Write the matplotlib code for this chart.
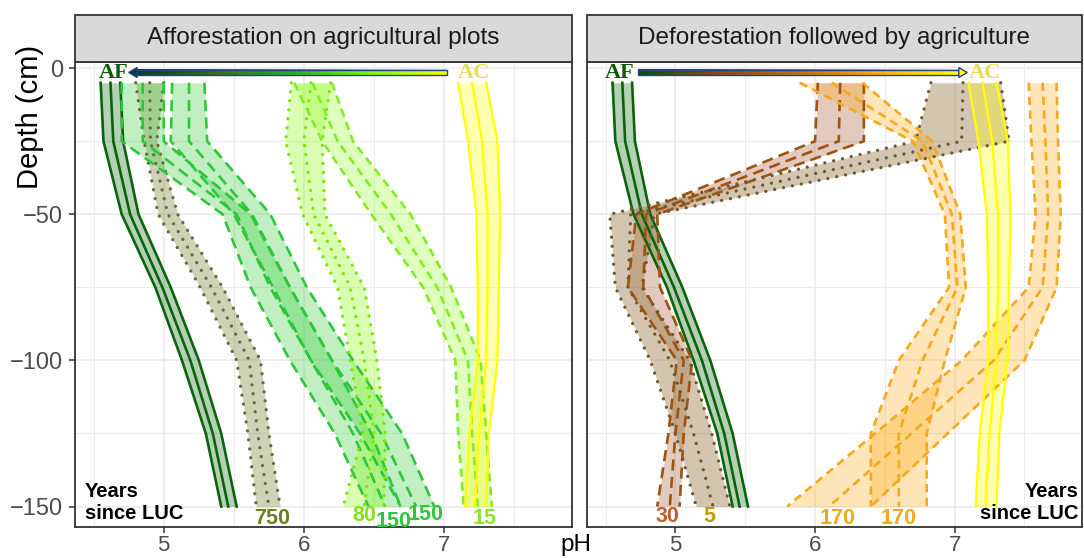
import numpy as np
import matplotlib.pyplot as plt
from matplotlib.colors import LinearSegmentedColormap
from matplotlib.patches import Rectangle, Polygon

plt.rcParams['font.family'] = ['Liberation Sans', 'DejaVu Sans']
plt.rcParams['lines.scale_dashes'] = False

# Depth of the sampled layers (cm)
depth = [-5, -25, -50, -75, -100, -125, -150]

# Reference profiles: forest (AF) and agriculture (AC), lower / mean / upper pH
af_lo = [4.55, 4.57, 4.70, 4.94, 5.13, 5.30, 5.41]
af_mid = [4.62, 4.64, 4.76, 4.99, 5.19, 5.35, 5.46]
af_hi = [4.69, 4.71, 4.82, 5.05, 5.25, 5.41, 5.52]

ac_lo = [7.10, 7.17, 7.23, 7.24, 7.24, 7.18, 7.15]
ac_mid = [7.20, 7.27, 7.31, 7.31, 7.30, 7.25, 7.22]
ac_hi = [7.30, 7.38, 7.40, 7.39, 7.38, 7.32, 7.30]

# Afforestation chronosequence
aff750_lo = [4.80, 4.86, 4.96, 5.26, 5.52, 5.60, 5.66]
aff750_mid = [4.90, 4.905, 5.03, 5.34, 5.61, 5.67, 5.75]
aff750_hi = [5.00, 4.95, 5.10, 5.42, 5.69, 5.75, 5.83]

aff150a_lo = [4.70, 4.70, 5.42, 5.62, 5.90, 6.22, 6.46]
aff150a_mid = [4.85, 4.85, 5.52, 5.76, 6.05, 6.35, 6.58]
aff150a_hi = [5.00, 5.00, 5.62, 5.90, 6.20, 6.48, 6.69]

aff150b_lo = [5.06, 5.05, 5.50, 5.78, 6.05, 6.40, 6.69]
aff150b_mid = [5.18, 5.18, 5.63, 5.90, 6.20, 6.55, 6.80]
aff150b_hi = [5.29, 5.31, 5.76, 6.02, 6.35, 6.70, 6.93]

aff80_lo = [5.91, 5.87, 5.99, 6.24, 6.33, 6.42, 6.28]
aff80_mid = [6.05, 6.00, 6.07, 6.33, 6.43, 6.50, 6.43]
aff80_hi = [6.19, 6.13, 6.15, 6.43, 6.52, 6.58, 6.57]

aff15_lo = [5.93, 6.13, 6.48, 6.85, 7.08, 7.10, 7.14]
aff15_mid = [6.06, 6.24, 6.62, 6.95, 7.17, 7.20, 7.24]
aff15_hi = [6.20, 6.35, 6.76, 7.05, 7.26, 7.30, 7.34]

# Deforestation chronosequence
def30_lo = [6.02, 6.00, 4.72, 4.66, 5.01, 4.95, 4.87]
def30_mid = [6.18, 6.17, 4.79, 4.77, 5.06, 5.00, 4.96]
def30_hi = [6.35, 6.35, 4.87, 4.89, 5.12, 5.06, 5.03]

def5_lo = [6.83, 6.72, 4.53, 4.57, 4.82, 5.00, 5.15]
def5_mid = [7.06, 7.05, 4.68, 4.66, 4.96, 5.13, 5.27]
def5_hi = [7.33, 7.39, 4.85, 4.76, 5.10, 5.26, 5.39]

def170a_lo = [7.53, 7.55, 7.58, 7.53, 7.05, 6.43, 5.80]
def170a_mid = [7.63, 7.65, 7.67, 7.63, 7.28, 6.69, 6.10]
def170a_hi = [7.73, 7.74, 7.76, 7.73, 7.50, 6.95, 6.40]

def170b_lo = [5.89, 6.70, 6.93, 6.96, 6.60, 6.40, 6.40]
def170b_mid = [6.12, 6.77, 6.98, 7.02, 6.77, 6.60, 6.60]
def170b_hi = [6.34, 6.84, 7.04, 7.08, 6.93, 6.80, 6.80]

# Years since land use change labels: text, pH, depth, colour
left_labels = [('750', 5.77, -154, '#6B7F1E'), ('80', 6.43, -153.2, '#7FE51A'),
               ('150', 6.64, -155.2, '#2DC83A'), ('150', 6.87, -152.8, '#2DC83A'),
               ('15', 7.29, -154, '#8AE62E')]
right_labels = [('30', 4.94, -153.4, '#C0602B'), ('5', 5.24, -153.4, '#C49A0A'),
                ('170', 6.16, -154, '#F5A81C'), ('170', 6.60, -154, '#F5A81C')]

STYLES = {'solid': '-', 'dash': (0, (6, 4)), 'longdash': (0, (8, 4.5)),
          'dot': (0, (0.01, 6.5))}


def ribbon(ax, lo, mid, hi, line, fill, alpha, style, lw=1.9, z=2):
    ax.fill_betweenx(depth, lo, hi, color=fill, alpha=alpha, lw=0, zorder=z)
    cap = 'round' if style == 'dot' else 'butt'
    w = 2.4 if style == 'dot' else lw
    for v in (lo, mid, hi):
        ax.plot(v, depth, color=line, ls=STYLES[style], lw=w,
                dash_capstyle=cap, solid_joinstyle='round', zorder=z + 0.5)


def grad_arrow(ax, x0, x1, tip, y, cmap, head_color):
    h = 1.0
    ax.imshow(np.linspace(0, 1, 256)[None, :], extent=[x0, x1, y - h, y + h],
              aspect='auto', cmap=cmap, zorder=10)
    ax.add_patch(Rectangle((x0, y - h), x1 - x0, 2 * h, fill=False,
                           edgecolor='#22408C', lw=1.0, zorder=11))
    base = x0 if tip < x0 else x1
    ax.add_patch(Polygon([[base, y - 1.7], [tip, y], [base, y + 1.7]],
                         facecolor=head_color, edgecolor='#22408C', lw=1.0, zorder=11))


fig = plt.figure(figsize=(10.84, 5.58), dpi=100)
ax1 = fig.add_axes([75 / 1084, 31 / 558, 497 / 1084, 465 / 558])
ax2 = fig.add_axes([587 / 1084, 31 / 558, 495 / 1084, 465 / 558])

# Left panel
ribbon(ax1, af_lo, af_mid, af_hi, '#0A640A', '#0A640A', 0.3, 'solid')
ribbon(ax1, aff750_lo, aff750_mid, aff750_hi, '#6E6640', '#6B7A1F', 0.33, 'dot')
ribbon(ax1, aff150a_lo, aff150a_mid, aff150a_hi, '#2DC83A', '#32CD32', 0.3, 'longdash')
ribbon(ax1, aff150b_lo, aff150b_mid, aff150b_hi, '#2DC83A', '#32CD32', 0.3, 'longdash')
ribbon(ax1, aff80_lo, aff80_mid, aff80_hi, '#7CE600', '#80FF00', 0.3, 'dot')
ribbon(ax1, aff15_lo, aff15_mid, aff15_hi, '#80EE20', '#80FF00', 0.25, 'dash')
ribbon(ax1, ac_lo, ac_mid, ac_hi, '#FFFF00', '#FFFF00', 0.3, 'solid', lw=1.6)

# Right panel
ribbon(ax2, af_lo, af_mid, af_hi, '#0A640A', '#0A640A', 0.3, 'solid')
ribbon(ax2, def30_lo, def30_mid, def30_hi, '#A0520F', '#A0522D', 0.3, 'longdash')
ribbon(ax2, def5_lo, def5_mid, def5_hi, '#6B5A2E', '#94703A', 0.4, 'dot')
ribbon(ax2, def170a_lo, def170a_mid, def170a_hi, '#F5A81C', '#FFA500', 0.28, 'dash')
ribbon(ax2, def170b_lo, def170b_mid, def170b_hi, '#F5A81C', '#FFA500', 0.28, 'dash')
ribbon(ax2, ac_lo, ac_mid, ac_hi, '#FFFF00', '#FFFF00', 0.3, 'solid', lw=1.6)

cmap_aff = LinearSegmentedColormap.from_list(
    'aff', ['#0A3B2A', '#3A6E12', '#22B022', '#7CFC00', '#FFFF00'])
cmap_def = LinearSegmentedColormap.from_list(
    'def', ['#0A5010', '#8B4A0F', '#C07010', '#FFB000', '#FFFF00'])
grad_arrow(ax1, 4.81, 7.02, 4.75, -1.5, cmap_aff, '#0A3B2A')
grad_arrow(ax2, 4.73, 7.03, 7.09, -1.5, cmap_def, '#FFFF00')

for ax, af_x, ac_x in ((ax1, 4.64, 7.21), (ax2, 4.60, 7.22)):
    ax.text(af_x, -1.8, 'AF', family='Liberation Serif', weight='bold', size=16,
            color='#0A5A0A', ha='center', va='center', zorder=12)
    ax.text(ac_x, -1.8, 'AC', family='Liberation Serif', weight='bold', size=16,
            color='#E6DC5A', ha='center', va='center', zorder=12)

for txt, x, y, c in left_labels:
    ax1.text(x, y, txt, color=c, weight='bold', size=15.5, ha='center', va='center', zorder=12)
for txt, x, y, c in right_labels:
    ax2.text(x, y, txt, color=c, weight='bold', size=15.5, ha='center', va='center', zorder=12)

ax1.text(4.436, -148.7, 'Years\nsince LUC', weight='bold', size=14.5,
         ha='left', va='center', zorder=12)
ax2.text(7.886, -148.7, 'Years\nsince LUC', weight='bold', size=14.5,
         ha='right', va='center', multialignment='right', zorder=12)

titles = ['Afforestation on agricultural plots', 'Deforestation followed by agriculture']
for ax, title in zip((ax1, ax2), titles):
    ax.set_xlim(4.367, 7.912)
    ax.set_ylim(-157, 2.1)
    ax.set_xticks([5, 6, 7])
    ax.set_xticklabels(['5', '6', '7'])
    ax.set_xticks([4.5, 5.5, 6.5, 7.5], minor=True)
    ax.set_yticks([-150, -100, -50, 0])
    ax.set_yticks([-125, -75, -25], minor=True)
    ax.grid(which='major', color='#EBEBEB', lw=1.2)
    ax.grid(which='minor', color='#EBEBEB', lw=0.8)
    ax.set_axisbelow(True)
    ax.tick_params(which='major', length=4.5, width=1.1, color='#333333',
                   labelsize=17, labelcolor='#4D4D4D', pad=4)
    ax.tick_params(axis='x', labelsize=16, pad=1.5)
    ax.tick_params(which='minor', length=0)
    for s in ax.spines.values():
        s.set_color('#333333')
        s.set_linewidth(1.3)
    ax.add_patch(Rectangle((0, 1), 1, 47 / 465, transform=ax.transAxes,
                           facecolor='#D9D9D9', edgecolor='#333333', lw=1.3,
                           clip_on=False, zorder=20))
    ax.text(0.5, 1 + 24 / 465, title, transform=ax.transAxes, ha='center',
            va='center', size=17.5, color='#1A1A1A', zorder=21)

ax2.tick_params(axis='y', left=False, labelleft=False)

fig.text(30 / 1084, 1 - 117 / 558, 'Depth (cm)', rotation=90, ha='center',
         va='center', size=21)
fig.text(576 / 1084, 1 - 545 / 558, 'pH', ha='center', va='center', size=17.5)

fig.savefig('out.png', dpi=100)
